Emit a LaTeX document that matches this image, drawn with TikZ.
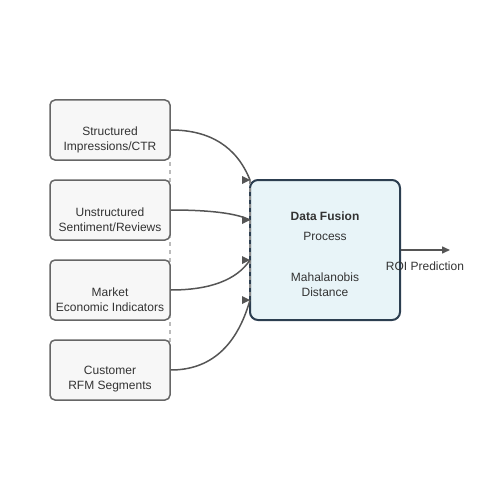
\documentclass[tikz,border=0pt]{standalone}
\usepackage{fontspec}
\setmainfont{Liberation Sans}
\usetikzlibrary{arrows.meta}
\definecolor{boxfill}{HTML}{F7F7F7}
\definecolor{boxline}{HTML}{666666}
\definecolor{fusefill}{HTML}{E8F4F8}
\definecolor{fuseline}{HTML}{2C3E50}
\definecolor{flowcol}{HTML}{555555}
\definecolor{txtcol}{HTML}{333333}
\definecolor{guidecol}{HTML}{BBBBBB}
\tikzset{
  srcbox/.style={draw=boxline,fill=boxfill,line width=1.5pt,rounded corners=5pt,minimum width=120pt,minimum height=60pt,inner sep=0pt},
  fusebox/.style={draw=fuseline,fill=fusefill,line width=2pt,rounded corners=8pt,minimum width=150pt,minimum height=140pt,inner sep=0pt},
  txt/.style={text=txtcol,align=center,inner sep=0pt},
  flow/.style={draw=flowcol,line width=1.5pt},
  guide/.style={draw=guidecol,line width=1.5pt,dash pattern=on 4pt off 4pt}
}
\begin{document}
\begin{tikzpicture}[x=1pt,y=-1pt,font=\fontsize{12}{15}\selectfont]
    \useasboundingbox (0,0) rectangle (500,500);
    \coordinate (gtop) at (170,130);
    \coordinate (gbot) at (170,370);
    \draw[guide] (gtop)--(gbot);
    \node[srcbox] (structured) at (110,130) {};
    \node[srcbox] (unstructured) at (110,210) {};
    \node[srcbox] (market) at (110,290) {};
    \node[srcbox] (customer) at (110,370) {};
    \node[txt] (structuredtxt) at (110,139.5) {Structured\\Impressions/CTR};
    \node[txt] (unstructuredtxt) at (110,219.5) {Unstructured\\Sentiment/Reviews};
    \node[txt] (markettxt) at (110,299.5) {Market\\Economic Indicators};
    \node[txt] (customertxt) at (110,379.5) {Customer\\RFM Segments};
    \node[fusebox] (fusion) at (325,250) {};
    \node[txt,font=\fontsize{12}{15}\selectfont\bfseries] (fusiontitle) at (325,216) {Data Fusion};
    \node[txt] (fusionproc) at (325,236) {Process};
    \node[txt] (fusionmeth) at (325,284.5) {Mahalanobis\\Distance};
    \coordinate (in1) at (250,180);
    \coordinate (in2) at (250,220);
    \coordinate (in3) at (250,260);
    \coordinate (in4) at (250,300);
    \draw[guide,draw=flowcol!70] (in1)--(in4);
    \draw[flow] (structured.east) .. controls (210,130) and (236.7,146.7) .. (in1);
    \draw[flow] (unstructured.east) .. controls (210,210) and (236.7,213.3) .. (in2);
    \draw[flow] (market.east) .. controls (210,290) and (236.7,280) .. (in3);
    \draw[flow] (customer.east) .. controls (210,370) and (236.7,346.7) .. (in4);
    \foreach \p in {in1,in2,in3,in4}
        \fill[flowcol] (\p)--++(-8,-4)--++(0,8)--cycle;
    \coordinate (out) at (450,250);
    \draw[flow,-{Triangle[width=7pt,length=8pt]}] (fusion.east)--(out);
    \node[txt] (roi) at (425,266) {ROI Prediction};
\end{tikzpicture}
\end{document}
